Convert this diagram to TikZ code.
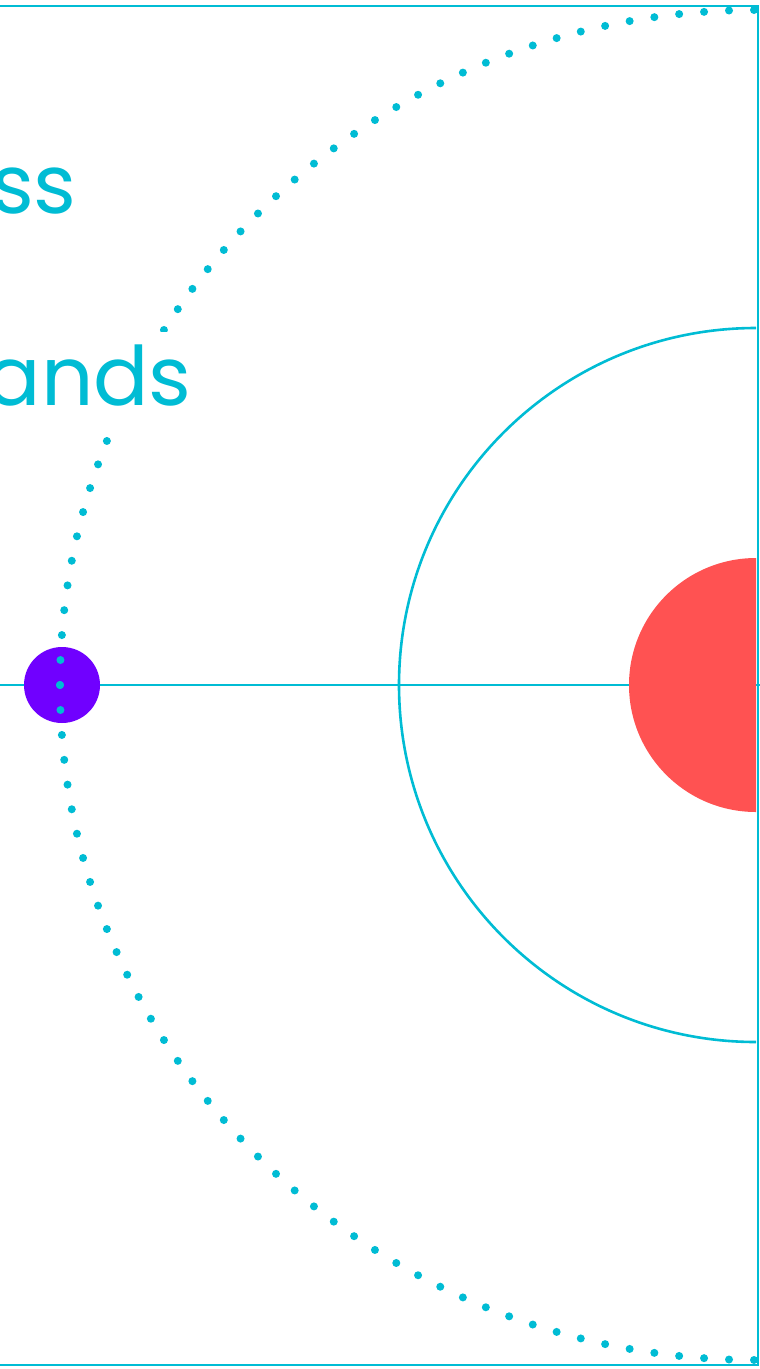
\documentclass[tikz,border=0pt]{standalone}
\usepackage{fontspec}
\setmainfont{Poppins}
\usetikzlibrary{positioning,calc}

\definecolor{orbitcyan}{RGB}{0,188,212}
\definecolor{planetpurple}{RGB}{112,0,255}
\definecolor{sunred}{RGB}{255,82,82}

\tikzset{
    word/.style={anchor=base east, inner xsep=0pt, inner ysep=12pt,
        text depth=7pt, fill=white, text=orbitcyan,
        font=\fontsize{82}{90}\selectfont},
    orbitline/.style={draw=orbitcyan, line width=2.6pt},
    orbitdots/.style={draw=orbitcyan, line width=8pt, line cap=round,
        dash pattern=on 0pt off 25pt}
}

\begin{document}
\begin{tikzpicture}[x=1pt, y=-1pt]

\useasboundingbox (0,0) rectangle (760,1369);
\clip (0,0) rectangle (760,1369);

% Centre of the system
\coordinate (sun) at (756,685);
\coordinate (west) at (0,685);
\coordinate (east) at (760,685);

% Frame
\draw[orbitline] (-10,6) -- (758,6) -- (758,1365) -- (-10,1365);

% Axis through the centre
\draw[orbitline] (west) -- (east);

% Inner orbit
\draw[orbitline] ($(sun)+(0,357)$) arc[start angle=90, end angle=270, radius=357];

% Planet
\node[circle, fill=planetpurple, minimum size=76pt, inner sep=0pt] (planet) at (62,685) {};

% Outer dotted orbit
\draw[orbitdots] (60,685) arc[start angle=180, end angle=90, x radius=696, y radius=675];
\draw[orbitdots] (60,685) arc[start angle=180, end angle=270, x radius=696, y radius=675];

% Sun (half disc)
\fill[sunred] ($(sun)+(0,127)$) arc[start angle=90, end angle=270, radius=127] -- cycle;

% Words
\node[word] (upper) at (77,213) {ss};
\node[word] (lower) at (192,405) {ands};

\end{tikzpicture}
\end{document}
